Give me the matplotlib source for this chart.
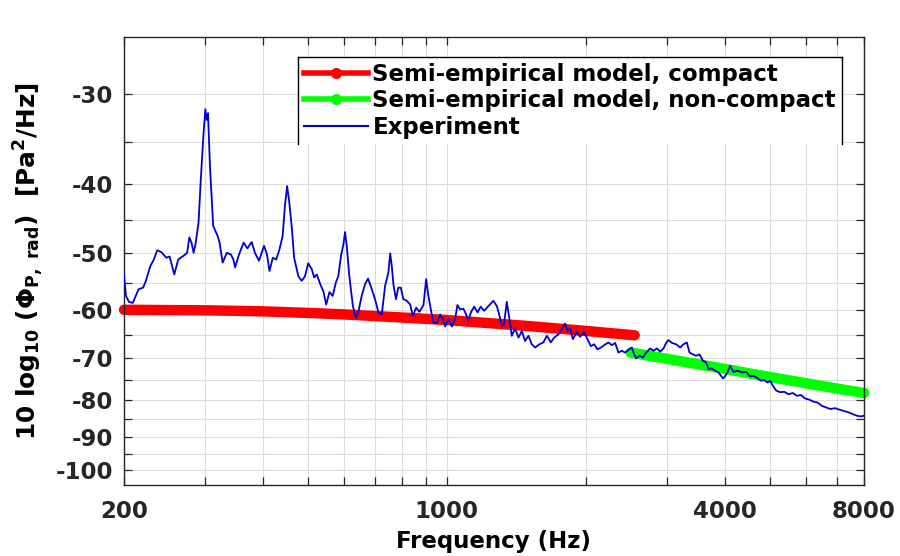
import numpy as np
import matplotlib
matplotlib.use("Agg")
import matplotlib.pyplot as plt
from matplotlib.lines import Line2D
from matplotlib.ticker import FixedLocator, FixedFormatter, NullFormatter

# ---------------- data ----------------
compact_freq = [200, 300, 400, 500, 600, 800, 1000, 1500, 2000, 2550]
compact_db = [-59.9, -60.0, -60.2, -60.5, -60.8, -61.4, -61.9, -63.1, -64.1, -65.0]

noncompact_freq = [2500, 3000, 4000, 5000, 6000, 7000, 8000]
noncompact_db = [-68.7, -70.1, -72.4, -74.3, -75.8, -77.1, -78.2]

exp_freq = [200, 202, 205, 209, 215, 220, 223, 228, 232, 236, 241, 247, 251, 257, 262, 269,
            274, 277, 280, 283, 286, 290, 293, 297, 300, 302, 304, 307, 312, 319, 322, 327,
            334, 341, 345, 348, 354, 363,
            370, 378, 384, 392, 402, 408, 413, 420, 427, 434, 441, 446, 451, 456, 462, 467,
            477, 485, 493, 501, 510, 516, 523, 532, 540, 548, 557, 566, 575, 582, 590, 597,
            602, 607, 615, 626, 635, 643, 654, 665,
            675, 688, 699, 711, 723, 735, 747, 754, 760, 766, 776, 785, 795, 805, 819, 833,
            844, 858, 872, 890, 902, 912, 923, 935, 951, 967, 980, 991, 1008, 1025, 1042,
            1054, 1068, 1086, 1101, 1113, 1127, 1146, 1165, 1184,
            1204, 1230, 1261, 1283, 1298, 1315, 1330, 1348, 1366, 1382, 1405, 1429, 1453,
            1477, 1502, 1527, 1553, 1586, 1618, 1646, 1679, 1707, 1744, 1774, 1803, 1824,
            1849, 1874, 1912, 1943, 1982, 2015, 2050, 2084, 2118, 2155,
            2190, 2238, 2276, 2314, 2352, 2392, 2432, 2473, 2515, 2535, 2569, 2612, 2657,
            2701, 2755, 2801, 2849, 2896, 2944, 2984, 3018, 3070, 3136, 3200, 3253, 3308,
            3352, 3409, 3465, 3523, 3583, 3642, 3685, 3747, 3810, 3873, 3959,
            3985, 4051, 4106, 4174, 4258, 4352, 4446, 4536, 4612, 4704, 4785, 4864, 4945,
            5012, 5080, 5164, 5268, 5374, 5491, 5613, 5726, 5841, 5968, 6097, 6220, 6345,
            6485, 6626, 6760, 6930, 7081, 7224, 7406, 7570, 7723, 7878, 8000]
exp_db = [-53.6, -57.3, -58.4, -58.6, -56.1, -55.8, -54.6, -52.1, -51.0, -49.5, -49.8, -50.7,
          -50.5, -53.5, -51.0, -50.4, -49.9, -47.5, -48.3, -49.9, -48.3, -45.3, -39.9, -34.4,
          -31.5, -32.6, -31.9, -37.8, -45.8, -47.3, -48.3, -51.5, -49.9, -50.2, -51.0, -52.3,
          -50.4, -48.3,
          -49.2, -48.2, -49.9, -51.2, -48.8, -50.2, -52.9, -50.7, -51.0, -49.4, -47.3, -43.0,
          -40.3, -42.5, -46.3, -50.7, -53.8, -54.6, -53.8, -51.6, -52.6, -54.0, -53.5, -55.2,
          -56.4, -58.9, -56.6, -57.3, -54.9, -53.8, -50.4, -48.6, -46.7, -48.8, -53.8, -59.2,
          -61.4, -60.4, -57.3, -55.2,
          -54.2, -56.1, -57.9, -60.4, -60.8, -55.5, -53.2, -50.0, -52.1, -55.2, -57.9, -55.8,
          -55.8, -57.9, -58.2, -58.9, -61.1, -59.5, -60.3, -59.0, -54.3, -57.3, -59.8, -62.4,
          -62.5, -60.8, -61.7, -63.2, -61.7, -63.2, -61.7, -59.0, -59.8, -59.7, -60.8, -62.1,
          -60.4, -59.3, -60.4, -59.3,
          -60.1, -59.2, -58.2, -59.2, -60.8, -63.1, -62.7, -58.4, -61.7, -65.1, -63.6, -65.5,
          -64.1, -66.2, -65.1, -66.9, -67.6, -66.9, -66.5, -65.1, -66.5, -65.5, -64.8, -63.7,
          -62.6, -64.1, -63.6, -65.8, -64.4, -65.3, -64.4, -65.8, -67.3, -66.9, -68.0, -67.6,
          -67.1, -66.5, -67.1, -66.6, -68.7, -68.3, -68.7, -68.1, -67.6, -68.7, -70.0, -69.4,
          -69.8, -68.7, -67.8, -68.3, -67.8, -68.5, -67.8, -66.6, -66.0, -66.6, -66.9, -67.6,
          -66.9, -66.5, -68.7, -69.1, -69.4, -69.1, -70.5, -70.9, -72.4, -72.3, -72.8, -73.2,
          -74.6,
          -74.4, -73.2, -71.7, -73.1, -72.8, -73.2, -73.1, -74.2, -74.0, -74.6, -75.2, -75.0,
          -75.6, -75.2, -76.4, -77.6, -78.0, -77.9, -78.5, -78.2, -78.9, -78.7, -79.6, -79.9,
          -80.4, -80.6, -81.5, -81.9, -82.3, -82.1, -82.5, -82.8, -83.2, -83.7, -84.1, -84.3,
          -84.1]

x_major = [200, 1000, 4000, 8000]
x_major_labels = ["200", "1000", "4000", "8000"]
x_minor = [300, 400, 500, 600, 700, 800, 900, 2000, 3000, 5000, 6000, 7000]
y_major = [-100, -90, -80, -70, -60, -50, -40, -30]
y_major_labels = ["-100", "-90", "-80", "-70", "-60", "-50", "-40", "-30"]
y_minor = [-95, -85, -75, -65, -55, -45, -35]

labels = ["Semi-empirical model, compact", "Semi-empirical model, non-compact", "Experiment"]

# ---------------- style ----------------
FS = 16.5
plt.rcParams['font.family'] = ['DejaVu Sans']
plt.rcParams['font.weight'] = 'bold'
plt.rcParams['mathtext.fontset'] = 'dejavusans'
plt.rcParams['mathtext.default'] = 'bf'
axcol = '#262626'
gridcol = '#dcdcdc'

fig = plt.figure(figsize=(9, 5.56), dpi=100)
ax = fig.add_axes([124 / 900, 1 - 485 / 556, 740 / 900, 448 / 556])


def fwd(y):
    y = np.asarray(y, dtype=float)
    return -np.log10(np.clip(-y, 1e-9, None))


def inv(t):
    t = np.asarray(t, dtype=float)
    return -np.power(10.0, -t)


ax.set_xscale('log')
ax.set_yscale('function', functions=(fwd, inv))

ax.plot(exp_freq, exp_db, color='#0000d0', lw=1.3, zorder=3)
ax.plot(compact_freq, compact_db, color='#ff0000', lw=7.5, solid_capstyle='round',
        zorder=2, clip_on=False)
ax.plot(noncompact_freq, noncompact_db, color='#00ff00', lw=7.5, solid_capstyle='round',
        zorder=2, clip_on=False)

ax.set_xlim(200, 8000)
ax.set_ylim(-105, -25)

ax.xaxis.set_major_locator(FixedLocator(x_major))
ax.xaxis.set_major_formatter(FixedFormatter(x_major_labels))
ax.xaxis.set_minor_locator(FixedLocator(x_minor))
ax.xaxis.set_minor_formatter(NullFormatter())
ax.yaxis.set_major_locator(FixedLocator(y_major))
ax.yaxis.set_major_formatter(FixedFormatter(y_major_labels))
ax.yaxis.set_minor_locator(FixedLocator(y_minor))
ax.yaxis.set_minor_formatter(NullFormatter())

ax.grid(True, which='both', color=gridcol, lw=0.8, zorder=0)
ax.set_axisbelow(True)
ax.tick_params(which='both', direction='in', top=True, right=True, length=6,
               width=0.9, color=axcol, labelcolor=axcol, labelsize=FS)
ax.tick_params(axis='x', which='major', pad=11)
ax.tick_params(axis='y', which='major', pad=8)
for lab in ax.get_xticklabels() + ax.get_yticklabels():
    lab.set_fontweight('bold')
for s in ax.spines.values():
    s.set_color(axcol)
    s.set_linewidth(1.0)

ax.set_xlabel("Frequency (Hz)", fontsize=FS, fontweight='bold', color='black', labelpad=5)
ax.set_ylabel(r"10 log$_{10}$ ($\Phi_{P,\ rad}$)  [Pa$^{2}$/Hz]", fontsize=17.8,
              fontweight='bold', color='black', labelpad=7)

handles = [Line2D([], [], color='#ff0000', lw=4, marker='o', markersize=7),
           Line2D([], [], color='#00ff00', lw=4, marker='o', markersize=7),
           Line2D([], [], color='#0000d0', lw=1.5)]
leg = ax.legend(handles, labels, loc='upper left', bbox_to_anchor=(0.235, 0.955),
                borderaxespad=0, prop={'weight': 'bold', 'size': FS},
                frameon=True, fancybox=False, handlelength=2.8, handletextpad=0.2,
                labelspacing=0.15, borderpad=0.25, numpoints=1)
frame = leg.get_frame()
frame.set_edgecolor('none')
frame.set_alpha(1)
leg.set_zorder(5)

# legend border drawn on three sides (no bottom edge, as in the reference)
fig.canvas.draw()
bb = leg.get_window_extent().transformed(fig.transFigure.inverted())
for xs, ys in [([bb.x0, bb.x0], [bb.y0, bb.y1]),
               ([bb.x0, bb.x1], [bb.y1, bb.y1]),
               ([bb.x1, bb.x1], [bb.y0, bb.y1])]:
    fig.add_artist(Line2D(xs, ys, transform=fig.transFigure, color='black', lw=1.0,
                          zorder=6))

fig.savefig("out.png", dpi=100)
